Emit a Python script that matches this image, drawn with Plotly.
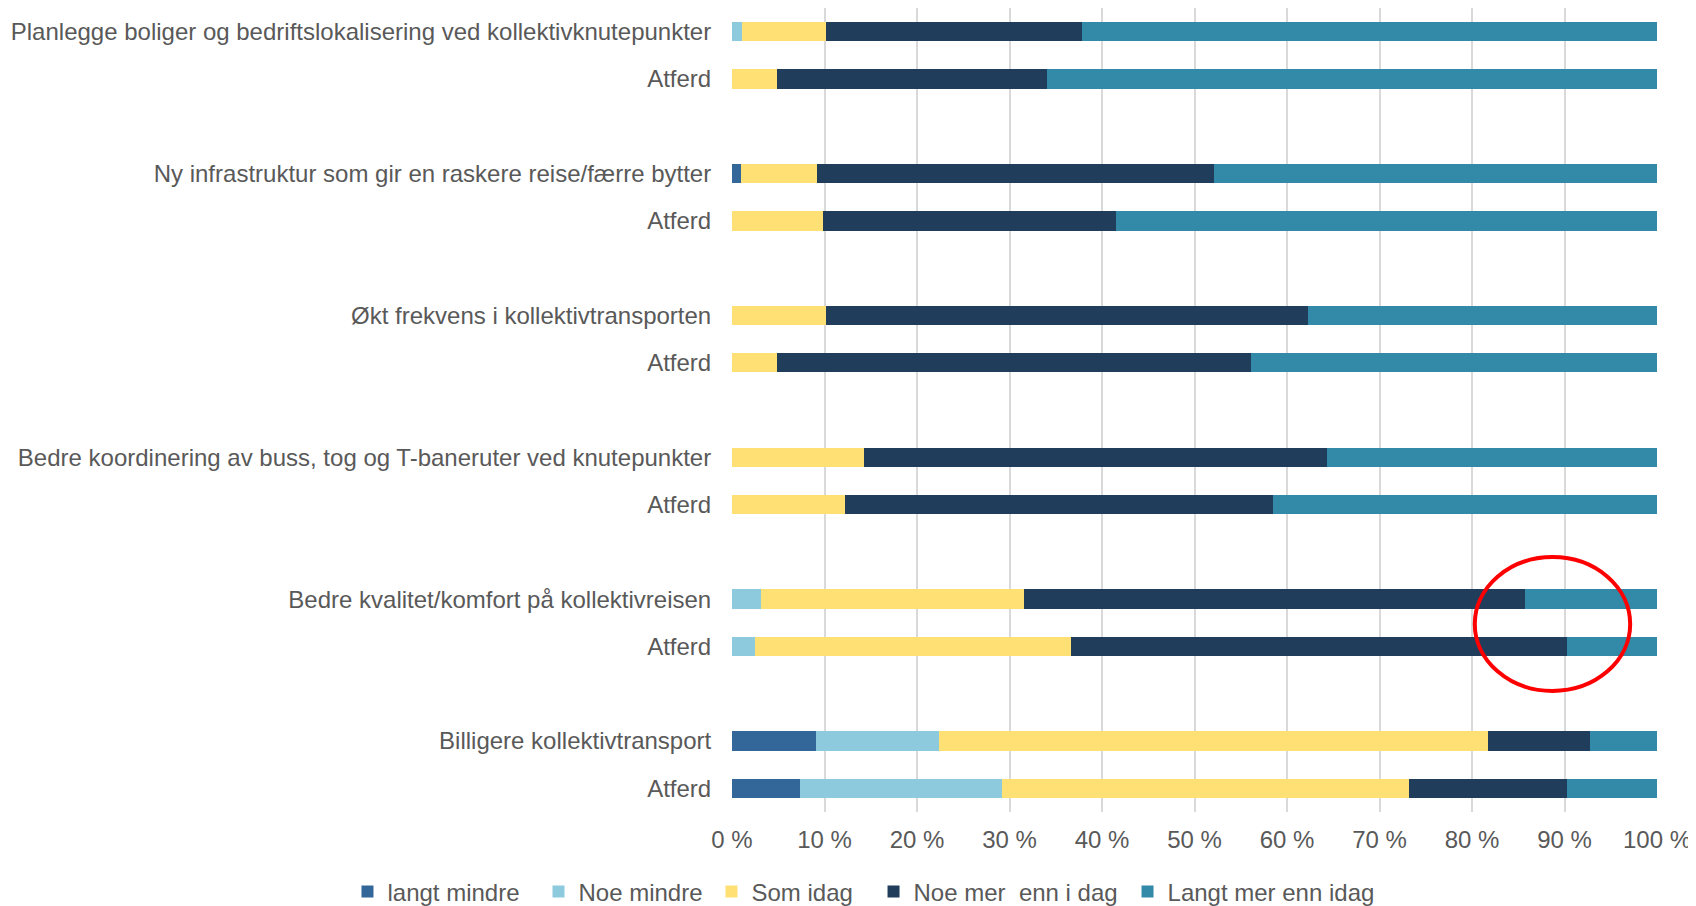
import plotly.graph_objects as go

# Kategorier (ovenfra og ned), hver gruppe har et tiltak og en "Atferd"-rad
tiltak = [
    "Planlegge boliger og bedriftslokalisering ved kollektivknutepunkter",
    "Ny infrastruktur som gir en raskere reise/færre bytter",
    "Økt frekvens i kollektivtransporten",
    "Bedre koordinering av buss, tog og T-baneruter ved knutepunkter",
    "Bedre kvalitet/komfort på kollektivreisen",
    "Billigere kollektivtransport",
]
rad_labels = []
for t in tiltak:
    rad_labels += [t, "Atferd"]

serier = ["langt mindre", "Noe mindre", "Som idag", "Noe mer  enn i dag", "Langt mer enn idag"]
farger = ["#336699", "#8DCADD", "#FFE074", "#203D5C", "#3289A8"]

# Andeler i prosent, én liste per serie, i samme rekkefølge som rad_labels
langt_mindre = [0, 0, 1.0, 0, 0, 0, 0, 0, 0, 0, 9.1, 7.3]
noe_mindre = [1.1, 0, 0, 0, 0, 0, 0, 0, 3.1, 2.5, 13.3, 21.9]
som_idag = [9.1, 4.9, 8.2, 9.8, 10.2, 4.9, 14.3, 12.2, 28.5, 34.1, 59.3, 44.0]
noe_mer = [27.6, 29.2, 42.9, 31.7, 52.1, 51.2, 50.0, 46.3, 54.1, 53.7, 11.1, 17.1]
langt_mer = [62.2, 65.9, 47.9, 58.5, 37.7, 43.9, 35.7, 41.5, 14.3, 9.7, 7.2, 9.7]
verdier = [langt_mindre, noe_mindre, som_idag, noe_mer, langt_mer]

x_ticks = [0, 10, 20, 30, 40, 50, 60, 70, 80, 90, 100]

# y-posisjon: to rader per gruppe, en tom rad mellom gruppene
ypos = [3 * (i // 2) + (i % 2) for i in range(len(rad_labels))]

# én legende per serie, så avstanden blir som i Excel-figuren
legende_x = [-0.4157, -0.2092, -0.0222, 0.1530, 0.4276]
legende_id = ["legend"] + [f"legend{i}" for i in range(2, len(serier) + 1)]

tekst = "#595959"

fig = go.Figure()
for navn, farge, v, lid in zip(serier, farger, verdier, legende_id):
    fig.add_trace(go.Bar(
        y=ypos, x=v, name=navn, orientation="h",
        marker=dict(color=farge, line=dict(width=0)),
        width=0.41, legend=lid,
    ))

# rød ring rundt de to øverste segmentene i "Bedre kvalitet"-gruppen
fig.add_shape(type="circle", xref="x", yref="y",
              x0=80.3, x1=97.1, y0=11.11, y1=13.94,
              line=dict(color="#FF0000", width=4))

fig.update_layout(
    barmode="stack",
    width=1696, height=906,
    margin=dict(l=724, r=47, t=0, b=102, autoexpand=False),
    plot_bgcolor="white", paper_bgcolor="white",
    font=dict(family="Liberation Sans, Arial, sans-serif", size=24, color=tekst),
    showlegend=True,
    xaxis=dict(range=[0, 100], tickvals=x_ticks,
               ticktext=[f"{t} %" for t in x_ticks],
               showgrid=True, gridcolor="#D9D9D9", gridwidth=1.5,
               zeroline=False, showline=False,
               ticks="outside", ticklen=6, tickcolor="rgba(0,0,0,0)"),
    yaxis=dict(range=[16.5, -0.5], tickvals=ypos, ticktext=rad_labels,
               showgrid=False, zeroline=False, showline=False,
               ticks="outside", ticklen=15, tickcolor="rgba(0,0,0,0)"),
)
for lid, lx in zip(legende_id, legende_x):
    fig.update_layout({lid: dict(orientation="h", x=lx, xanchor="left",
                                 y=-0.0995, yanchor="middle",
                                 font=dict(size=24, color=tekst), itemwidth=30)})

fig.write_html("out.html")
